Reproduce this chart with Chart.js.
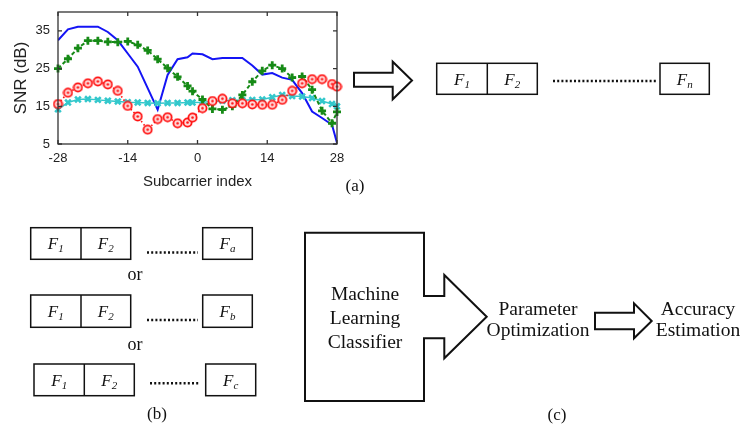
<!DOCTYPE html>
<html lang="en">
<head>
<meta charset="UTF-8">
<title>SNR per subcarrier and feature pipeline</title>
<script src="https://cdn.jsdelivr.net/npm/chart.js"></script>
<style>
  html, body { margin: 0; padding: 0; background: #fff; }
  #wrap { position: relative; width: 745px; height: 425px; overflow: hidden; }
  #snrChart { position: absolute; left: 0; top: 0; }
  #diagram { position: absolute; left: 0; top: 0; }
  #diagram text { font-family: "Liberation Serif", "DejaVu Serif", serif; fill: #111; }
</style>
</head>
<body>
<div id="wrap">
  <canvas id="snrChart" width="345" height="195"></canvas>
  <svg id="diagram" width="745" height="425" viewBox="0 0 745 425">
    <g fill="none" stroke="#111" stroke-width="2">
      <!-- (a) arrow + feature vector -->
      <polygon points="354,72.7 392.7,72.7 392.7,61.7 412,80.5 392.7,99.3 392.7,86.7 354,86.7"/>
      <rect x="436.7" y="63.3" width="100.6" height="31" stroke-width="1.5"/>
      <line x1="487.3" y1="63.3" x2="487.3" y2="94.3" stroke-width="1.5"/>
      <rect x="660" y="63.3" width="49.3" height="31" stroke-width="1.5"/>
      <line x1="553" y1="81" x2="656" y2="81" stroke-width="2.5" stroke-dasharray="2 2.2"/>

      <!-- (b) three feature subsets -->
      <rect x="30.7" y="227.7" width="100" height="31.6" stroke-width="1.5"/>
      <line x1="81" y1="227.7" x2="81" y2="259.3" stroke-width="1.5"/>
      <rect x="202.7" y="227.7" width="49.6" height="31.6" stroke-width="1.5"/>
      <line x1="147" y1="252.5" x2="198" y2="252.5" stroke-width="2.5" stroke-dasharray="2 2.2"/>

      <rect x="30.7" y="295" width="100" height="32.3" stroke-width="1.5"/>
      <line x1="81" y1="295" x2="81" y2="327.3" stroke-width="1.5"/>
      <rect x="202.7" y="295" width="49.6" height="32.3" stroke-width="1.5"/>
      <line x1="147" y1="320" x2="198" y2="320" stroke-width="2.5" stroke-dasharray="2 2.2"/>

      <rect x="34" y="364" width="100.3" height="31.7" stroke-width="1.5"/>
      <line x1="84.3" y1="364" x2="84.3" y2="395.7" stroke-width="1.5"/>
      <rect x="205.7" y="364" width="50" height="31.7" stroke-width="1.5"/>
      <line x1="150" y1="383.3" x2="200" y2="383.3" stroke-width="2.5" stroke-dasharray="2 2.2"/>

      <!-- (c) classifier block arrow -->
      <polygon points="305,232.7 424,232.7 424,296 444.3,296 444.3,275 486.7,316.7 444.3,358.3 444.3,338.3 424,338.3 424,401 305,401"/>
      <polygon points="595,312.7 634,312.7 634,303.3 651.7,321 634,338.3 634,329.3 595,329.3"/>
    </g>

    <g font-size="17" font-style="italic" text-anchor="middle">
      <text x="462" y="85">F<tspan font-size="11" dy="3">1</tspan></text>
      <text x="512.3" y="85">F<tspan font-size="11" dy="3">2</tspan></text>
      <text x="684.7" y="85">F<tspan font-size="11" dy="3">n</tspan></text>

      <text x="55.8" y="249.4">F<tspan font-size="11" dy="3">1</tspan></text>
      <text x="105.8" y="249.4">F<tspan font-size="11" dy="3">2</tspan></text>
      <text x="227.5" y="249.4">F<tspan font-size="11" dy="3">a</tspan></text>

      <text x="55.8" y="316.7">F<tspan font-size="11" dy="3">1</tspan></text>
      <text x="105.8" y="316.7">F<tspan font-size="11" dy="3">2</tspan></text>
      <text x="227.5" y="316.7">F<tspan font-size="11" dy="3">b</tspan></text>

      <text x="59.2" y="385.7">F<tspan font-size="11" dy="3">1</tspan></text>
      <text x="109.3" y="385.7">F<tspan font-size="11" dy="3">2</tspan></text>
      <text x="230.7" y="385.7">F<tspan font-size="11" dy="3">c</tspan></text>
    </g>

    <g font-size="18" text-anchor="middle">
      <text x="135" y="280">or</text>
      <text x="135" y="350">or</text>
      <text x="355" y="191" font-size="17">(a)</text>
      <text x="157" y="419" font-size="17">(b)</text>
      <text x="557" y="420" font-size="17">(c)</text>
    </g>

    <g font-size="19.5" text-anchor="middle">
      <text x="365" y="300">Machine</text>
      <text x="365" y="324">Learning</text>
      <text x="365" y="348">Classifier</text>
      <text x="538" y="315">Parameter</text>
      <text x="538" y="336">Optimization</text>
      <text x="698" y="315">Accuracy</text>
      <text x="698" y="336">Estimation</text>
    </g>
  </svg>
</div>

<script>
// Intel 5300 style grouped subcarrier indices
const subcarriers = [-28,-26,-24,-22,-20,-18,-16,-14,-12,-10,-8,-6,-4,-2,-1,1,3,5,7,9,11,13,15,17,19,21,23,25,27,28];

const snrBlue  = [32.5,35.4,36.1,36.1,36.1,34.7,32.5,29.0,25.5,19.8,14.1,23.3,27.5,28.0,29.0,28.8,27.5,27.8,27.8,27.8,25.8,23.4,23.8,22.6,22.0,18.5,13.6,11.9,10.1,5.3];
const snrGreen = [25.0,27.6,30.4,32.4,32.4,32.1,32.0,32.2,31.3,29.8,27.5,25.1,22.8,20.4,19.0,16.8,14.3,14.1,15.0,18.0,21.5,24.4,25.9,25.0,22.6,22.9,19.4,13.8,10.5,13.5];
const snrRed   = [15.6,18.6,20.0,21.1,21.6,20.8,19.1,15.1,12.3,8.8,11.6,12.1,10.5,10.7,12.0,14.5,16.4,17.0,15.8,15.8,15.5,15.4,15.4,16.7,19.1,21.1,22.2,22.2,20.9,20.2];
const snrCyan  = [14.2,16.0,16.8,16.9,16.7,16.5,16.3,16.1,16.0,15.9,15.8,15.9,15.9,16.0,16.0,16.1,16.3,16.5,16.6,16.6,16.7,16.8,17.4,18.0,17.7,17.6,17.2,16.4,15.6,15.0];

const xTicks = [-28, -14, 0, 14, 28];
const yTicks = [5, 15, 25, 35];

const pts = vals => subcarriers.map((x, i) => ({ x, y: vals[i] }));

// red ring marker with a dot in the middle
const ring = document.createElement('canvas');
ring.width = 11; ring.height = 11;
(() => {
  const c = ring.getContext('2d');
  c.beginPath(); c.arc(5.5, 5.5, 4.1, 0, Math.PI * 2);
  c.fillStyle = '#ffe0e0'; c.fill();
  c.lineWidth = 1.8; c.strokeStyle = '#ff1010'; c.stroke();
  c.beginPath(); c.arc(5.5, 5.5, 1.3, 0, Math.PI * 2);
  c.fillStyle = '#ff1010'; c.fill();
})();

// matlab-like box with inward ticks
const boxFrame = {
  id: 'boxFrame',
  afterDatasetsDraw(chart) {
    const { ctx, chartArea: a, scales: { x, y } } = chart;
    ctx.save();
    ctx.strokeStyle = '#333';
    ctx.lineWidth = 1.3;
    ctx.strokeRect(a.left, a.top, a.right - a.left, a.bottom - a.top);
    ctx.beginPath();
    xTicks.forEach(v => {
      const px = x.getPixelForValue(v);
      ctx.moveTo(px, a.bottom); ctx.lineTo(px, a.bottom - 4);
      ctx.moveTo(px, a.top); ctx.lineTo(px, a.top + 4);
    });
    yTicks.forEach(v => {
      const py = y.getPixelForValue(v);
      ctx.moveTo(a.left, py); ctx.lineTo(a.left + 4, py);
      ctx.moveTo(a.right, py); ctx.lineTo(a.right - 4, py);
    });
    ctx.stroke();
    ctx.restore();
  }
};

new Chart(document.getElementById('snrChart').getContext('2d'), {
  type: 'line',
  data: {
    datasets: [
      {
        label: 'red',
        data: pts(snrRed),
        borderColor: '#ff1010',
        borderWidth: 1.6,
        borderDash: [1.5, 2.5],
        pointStyle: ring,
        pointRadius: 5,
        clip: false
      },
      {
        label: 'green',
        data: pts(snrGreen),
        borderColor: '#168a16',
        backgroundColor: '#168a16',
        borderWidth: 2,
        borderDash: [4, 2.5],
        pointStyle: 'cross',
        pointRadius: 4,
        pointBorderWidth: 2.8,
        clip: false
      },
      {
        label: 'cyan',
        data: pts(snrCyan),
        borderColor: '#33c8cc',
        backgroundColor: '#33c8cc',
        borderWidth: 1.5,
        pointStyle: 'crossRot',
        pointRadius: 4,
        pointBorderWidth: 2.6,
        clip: false
      },
      {
        label: 'blue',
        data: pts(snrBlue),
        borderColor: '#1414f5',
        borderWidth: 2,
        pointRadius: 0
      }
    ]
  },
  options: {
    responsive: false,
    animation: false,
    layout: { padding: { top: 12, right: 8, left: 0, bottom: 0 } },
    plugins: { legend: { display: false }, tooltip: { enabled: false } },
    elements: { line: { tension: 0 } },
    scales: {
      x: {
        type: 'linear',
        min: -28, max: 28,
        afterBuildTicks: s => { s.ticks = xTicks.map(v => ({ value: v })); },
        afterFit: s => { s.height = 51; s.paddingLeft = 0; s.paddingRight = 0; },
        grid: { display: false, drawTicks: false },
        border: { display: false },
        ticks: { padding: 7, color: '#222', font: { family: 'Liberation Sans, Arial, sans-serif', size: 13 } },
        title: {
          display: true, text: 'Subcarrier index', color: '#222',
          font: { family: 'Liberation Sans, Arial, sans-serif', size: 15 },
          padding: { top: 0, bottom: 4 }
        }
      },
      y: {
        min: 5, max: 40,
        afterBuildTicks: s => { s.ticks = yTicks.map(v => ({ value: v })); },
        afterFit: s => { s.width = 58; s.paddingTop = 0; s.paddingBottom = 0; },
        grid: { display: false, drawTicks: false },
        border: { display: false },
        ticks: { padding: 8, color: '#222', font: { family: 'Liberation Sans, Arial, sans-serif', size: 13 } },
        title: {
          display: true, text: 'SNR (dB)', color: '#222',
          font: { family: 'Liberation Sans, Arial, sans-serif', size: 17 },
          padding: { top: 11, bottom: 0 }
        }
      }
    }
  },
  plugins: [boxFrame]
});
</script>
</body>
</html>
